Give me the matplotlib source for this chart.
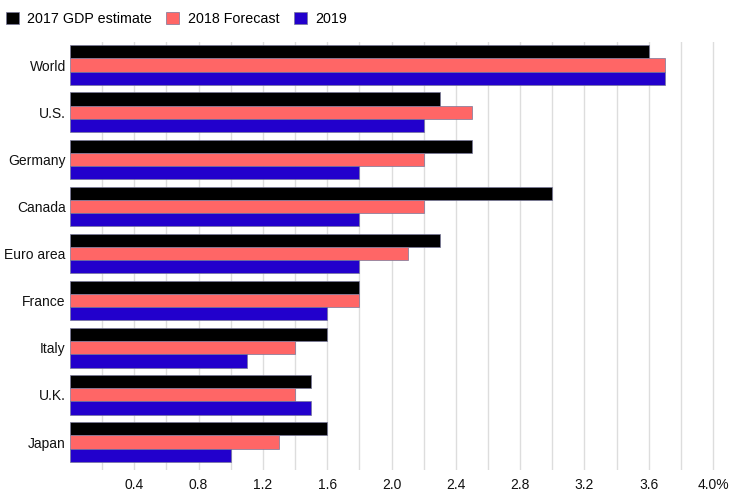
import matplotlib.pyplot as plt
import numpy as np

# GDP growth, percent
countries = ['World', 'U.S.', 'Germany', 'Canada', 'Euro area', 'France', 'Italy', 'U.K.', 'Japan']
gdp_2017 = [3.6, 2.3, 2.5, 3.0, 2.3, 1.8, 1.6, 1.5, 1.6]
gdp_2018 = [3.7, 2.5, 2.2, 2.2, 2.1, 1.8, 1.4, 1.4, 1.3]
gdp_2019 = [3.7, 2.2, 1.8, 1.8, 1.8, 1.6, 1.1, 1.5, 1.0]
series_names = ['2017 GDP estimate', '2018 Forecast', '2019']
colors = ['#000000', '#ff6666', '#2200cc']
tick_values = [0.4, 0.8, 1.2, 1.6, 2.0, 2.4, 2.8, 3.2, 3.6, 4.0]
tick_labels = ['0.4', '0.8', '1.2', '1.6', '2.0', '2.4', '2.8', '3.2', '3.6', '4.0%']

plt.rcParams['font.family'] = ['Liberation Sans', 'DejaVu Sans']
plt.rcParams['font.size'] = 10

fig = plt.figure(figsize=(7.4, 5.03), dpi=100)
ax = fig.add_axes([70 / 740, 33 / 503, 670 / 740, 428.5 / 503])

y = np.arange(len(countries))
h = 0.28
for i, (vals, name, c) in enumerate(zip([gdp_2017, gdp_2018, gdp_2019], series_names, colors)):
    ax.barh(y + (i - 1) * h, vals, height=h, color=c, label=name,
            edgecolor='#777799', linewidth=0.5, zorder=3)

ax.set_ylim(8.594, -0.5)
ax.set_xlim(0, 4.0 * 670 / 643)
ax.set_yticks(y)
ax.set_yticklabels(countries, color='#111111')
ax.set_xticks(tick_values)
ax.set_xticklabels(tick_labels, color='#111111')
ax.set_xticks(np.arange(0.2, 4.01, 0.4), minor=True)
ax.tick_params(axis='both', which='both', length=0)
ax.tick_params(axis='y', pad=3)
ax.tick_params(axis='x', pad=6)
ax.grid(axis='x', which='both', color='#dddddd', linewidth=1, zorder=0)
for s in ax.spines.values():
    s.set_visible(False)

ax.legend(loc='upper left', bbox_to_anchor=(-70 / 670, 1 + 35 / 428.5), ncol=3, frameon=False,
          handlelength=0.9, handleheight=0.9, handletextpad=0.6, columnspacing=1.0,
          borderaxespad=0, fontsize=10.3)

fig.savefig('out.png', dpi=100)
